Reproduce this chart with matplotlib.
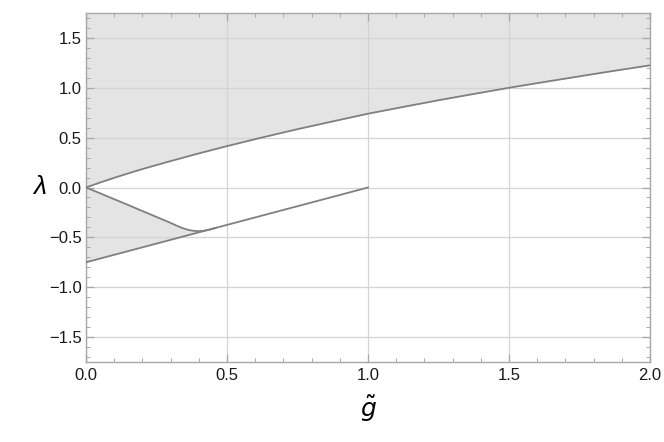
import matplotlib
matplotlib.use("Agg")
import matplotlib.pyplot as plt
from matplotlib.ticker import MultipleLocator, FuncFormatter
import numpy as np

# upper boundary
g_upper = [0.0, 0.05, 0.1, 0.15, 0.2, 0.3, 0.4, 0.5, 0.625, 0.75, 0.875, 1.0,
           1.125, 1.25, 1.375, 1.5, 1.625, 1.75, 1.875, 2.0]
lam_upper = [0.0, 0.05, 0.097, 0.142, 0.185, 0.265, 0.342, 0.415, 0.502, 0.585, 0.663, 0.74,
             0.808, 0.875, 0.938, 1.0, 1.058, 1.115, 1.171, 1.225]

# curved branch from the origin down to the straight line
g_curve = [0.0, 0.05, 0.1, 0.15, 0.2, 0.25, 0.3, 0.32, 0.34, 0.36, 0.38, 0.40, 0.42, 0.44, 0.46]
lam_curve = [0.0, -0.058, -0.117, -0.176, -0.236, -0.295, -0.355, -0.381, -0.405, -0.423,
             -0.434, -0.438, -0.433, -0.421, -0.405]

# straight branch
g_line = [0.0, 1.0]
lam_line = [-0.75, 0.0]

plt.rcParams['font.family'] = ['Liberation Sans', 'DejaVu Sans']

fig = plt.figure(figsize=(6.64, 4.42), dpi=100)
ax = fig.add_axes([86/664, 80/442, 564/664, 349/442])

line_col = '#808080'
fill_col = '#e4e4e4'

# shaded regions
ax.fill_between(g_upper, lam_upper, 1.75, color=fill_col, lw=0, zorder=0)
gl = np.interp(g_curve, g_line, lam_line)
ax.fill_between(g_curve, gl, np.minimum(lam_curve, 0), color=fill_col, lw=0, zorder=0)

ax.plot(g_upper, lam_upper, color=line_col, lw=1.3, zorder=3)
ax.plot(g_curve, lam_curve, color=line_col, lw=1.3, zorder=3)
ax.plot(g_line, lam_line, color=line_col, lw=1.3, zorder=3)

ax.set_xlim(0, 2)
ax.set_ylim(-1.75, 1.75)
ax.xaxis.set_major_locator(MultipleLocator(0.5))
ax.xaxis.set_minor_locator(MultipleLocator(0.1))
ax.yaxis.set_major_locator(MultipleLocator(0.5))
ax.yaxis.set_minor_locator(MultipleLocator(0.1))
fmt = FuncFormatter(lambda v, p: ('%.1f' % v).replace('-', '\u2212'))
ax.xaxis.set_major_formatter(fmt)
ax.yaxis.set_major_formatter(fmt)

ax.grid(True, which='major', color='#d4d4d4', lw=0.9, zorder=1)
for gridline in ax.get_xgridlines() + ax.get_ygridlines():
    gridline.set_zorder(1)

for s in ax.spines.values():
    s.set_color('#a8a8a8')
    s.set_linewidth(1.0)

ax.tick_params(which='both', direction='in', top=True, right=True, color='#a8a8a8',
               labelsize=12, labelcolor='#1a1a1a')
ax.tick_params(axis='y', pad=3)
ax.tick_params(axis='x', pad=4)
ax.tick_params(which='major', length=6, width=0.9)
ax.tick_params(which='minor', length=3, width=0.7)

ax.set_xlabel(r'$\tilde{g}$', fontsize=18, va='center')
ax.set_ylabel('λ', fontsize=19, style='italic', rotation=0, va='center', ha='center')
ax.xaxis.set_label_coords(0.5, -0.135)
ax.yaxis.set_label_coords(-0.082, 0.5)

fig.savefig('out.png', dpi=100)
